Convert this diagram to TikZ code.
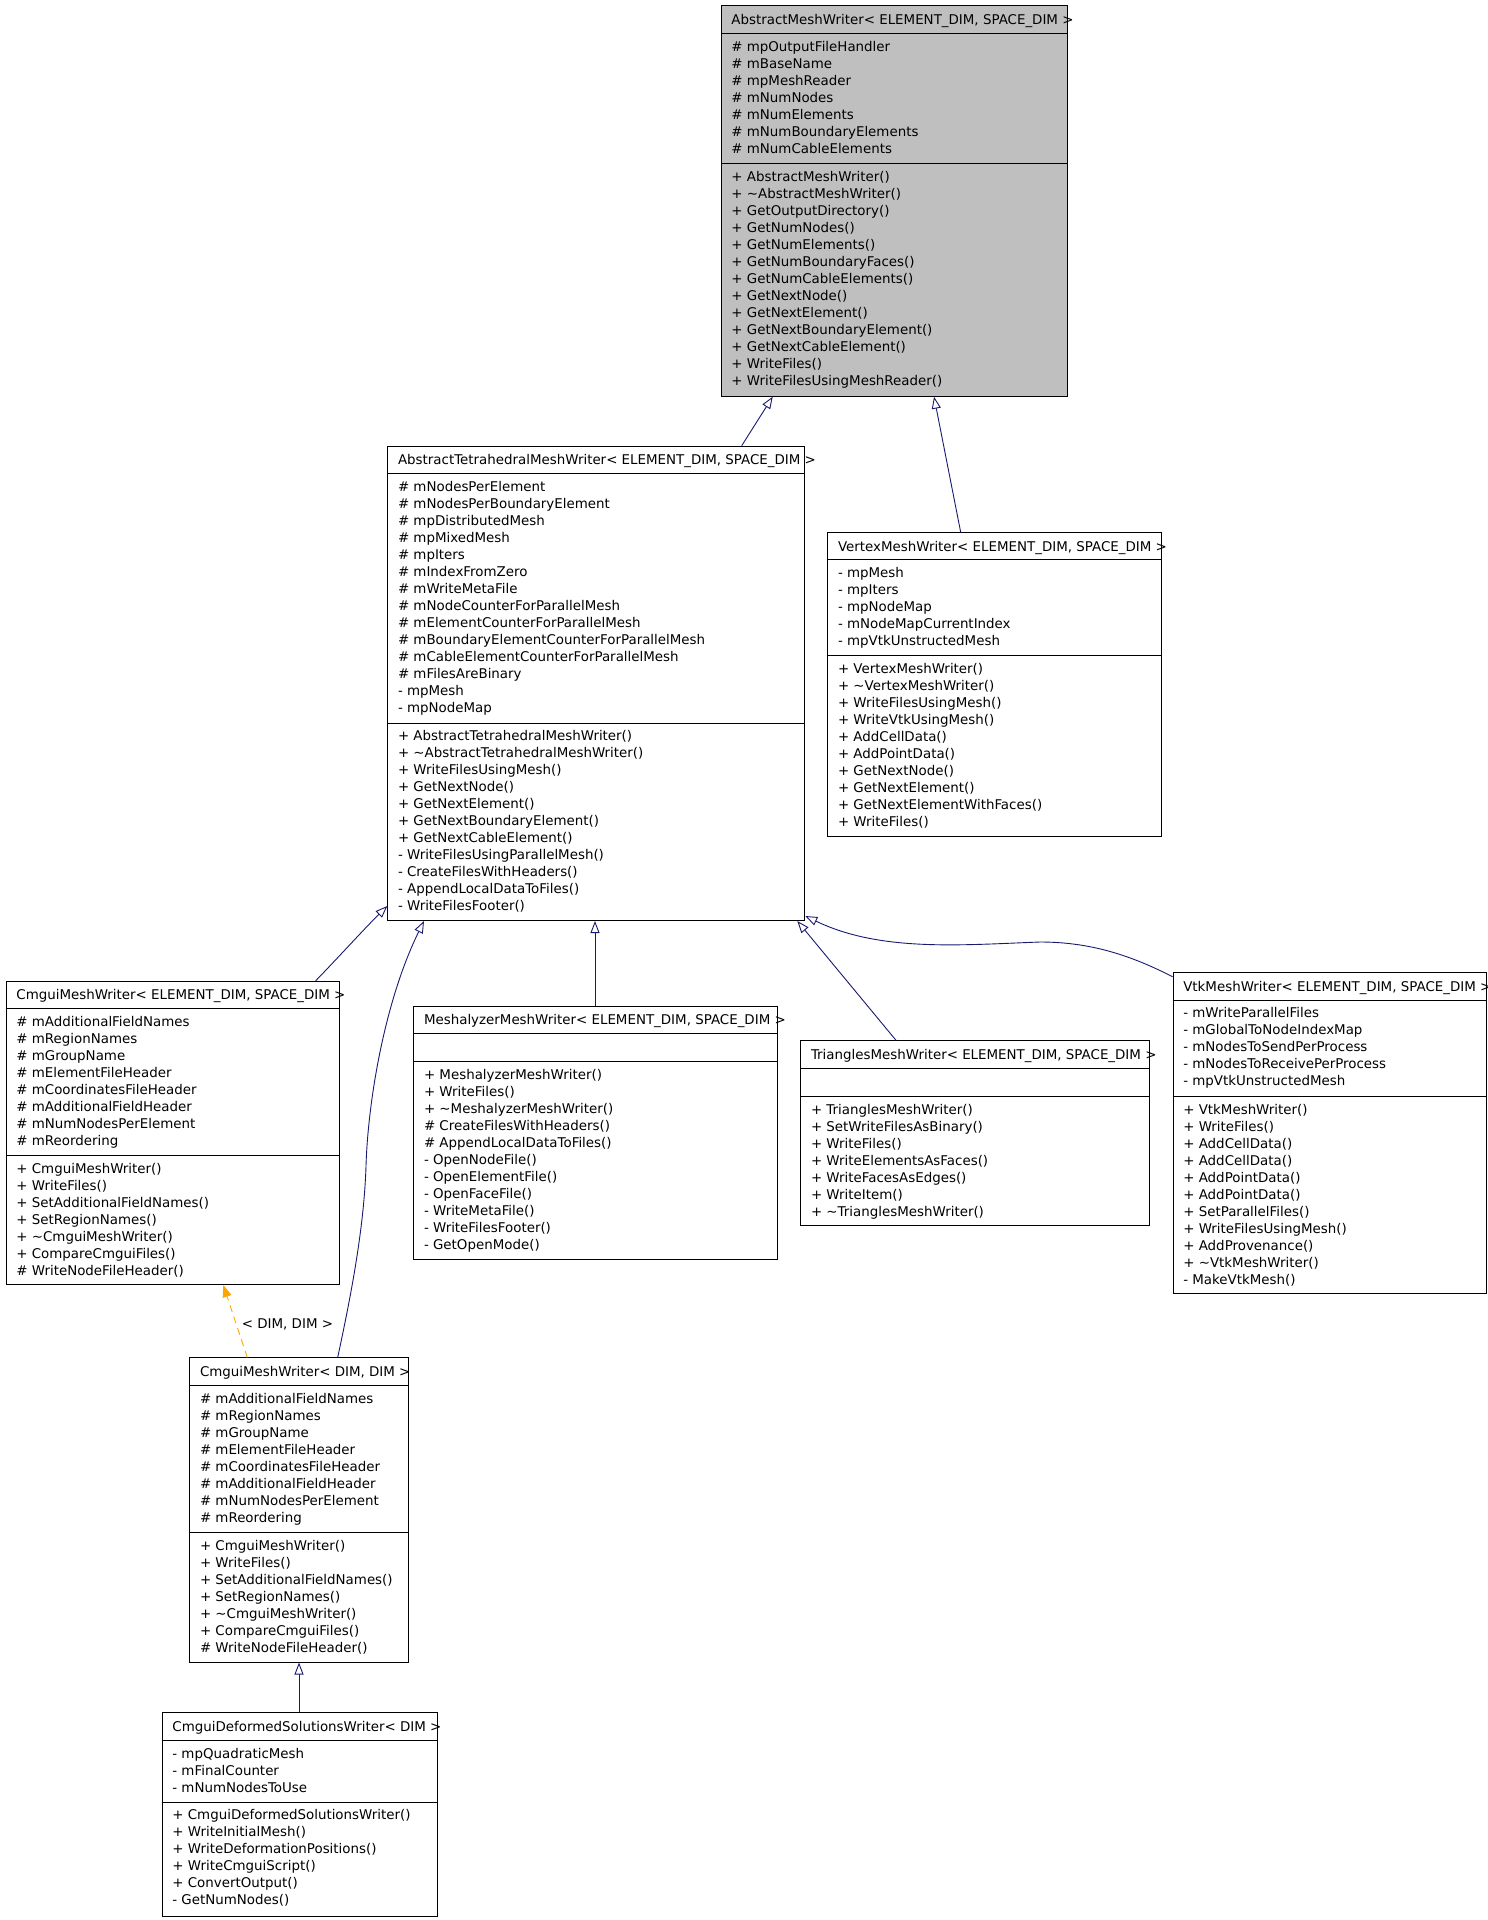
\documentclass[tikz,border=0pt]{standalone}
\usepackage{fontspec}
\setmainfont{DejaVu Sans}
\usetikzlibrary{arrows.meta,calc}
\definecolor{navy}{HTML}{191970}
\definecolor{greyfill}{HTML}{BFBFBF}
\definecolor{dorange}{HTML}{FFA500}
\newcommand\dfont{\fontsize{13.4}{17}\selectfont}
\newcommand\fst{\rule{0pt}{12pt}}
\newcommand\tl{\textasciitilde}
\begin{document}
\begin{tikzpicture}[x=1pt,y=-1pt,
  cbox/.style={draw=black, line width=1pt, inner sep=0pt, anchor=north west},
  sepline/.style={draw=black, line width=1pt},
  ttl/.style={anchor=base west, inner sep=0pt, font=\dfont},
  mem/.style={anchor=north west, inner sep=0pt, align=left, font=\dfont},
  inh/.style={draw=navy, line width=0.9pt, -{Triangle[fill=white, length=12pt, width=9pt]}},
  tmpl/.style={draw=dorange, line width=0.9pt, dash pattern=on 7pt off 5pt, -{Triangle[fill=dorange, length=12pt, width=9pt]}},
]
\useasboundingbox (0,0) rectangle (1488,1920);

% ---------- AbstractMeshWriter
\node[cbox, fill=greyfill, minimum width=346.6pt, minimum height=390.4pt] (amw) at (720.7,5.3) {};
\draw[sepline] (720.7,33.3) -- (1067.3,33.3);
\draw[sepline] (720.7,163.3) -- (1067.3,163.3);
\node[ttl] (amwT) at (731.2,24.3) {AbstractMeshWriter< ELEMENT\_DIM, SPACE\_DIM >};
\node[mem] (amwA) at (731.2,38.8) {\fst\# mpOutputFileHandler\\ \# mBaseName\\ \# mpMeshReader\\ \# mNumNodes\\ \# mNumElements\\ \# mNumBoundaryElements\\ \# mNumCableElements};
\node[mem] (amwM) at (731.2,168.8) {\fst+ AbstractMeshWriter()\\ + \tl AbstractMeshWriter()\\ + GetOutputDirectory()\\ + GetNumNodes()\\ + GetNumElements()\\ + GetNumBoundaryFaces()\\ + GetNumCableElements()\\ + GetNextNode()\\ + GetNextElement()\\ + GetNextBoundaryElement()\\ + GetNextCableElement()\\ + WriteFiles()\\ + WriteFilesUsingMeshReader()};

% ---------- AbstractTetrahedralMeshWriter
\node[cbox, minimum width=417pt, minimum height=474.3pt] (tetra) at (387.3,445.7) {};
\draw[sepline] (387.3,473.3) -- (804.3,473.3);
\draw[sepline] (387.3,723) -- (804.3,723);
\node[ttl] (tetraT) at (397.8,464.7) {AbstractTetrahedralMeshWriter< ELEMENT\_DIM, SPACE\_DIM >};
\node[mem] (tetraA) at (397.8,478.8) {\fst\# mNodesPerElement\\ \# mNodesPerBoundaryElement\\ \# mpDistributedMesh\\ \# mpMixedMesh\\ \# mpIters\\ \# mIndexFromZero\\ \# mWriteMetaFile\\ \# mNodeCounterForParallelMesh\\ \# mElementCounterForParallelMesh\\ \# mBoundaryElementCounterForParallelMesh\\ \# mCableElementCounterForParallelMesh\\ \# mFilesAreBinary\\ - mpMesh\\ - mpNodeMap};
\node[mem] (tetraM) at (397.8,728.5) {\fst+ AbstractTetrahedralMeshWriter()\\ + \tl AbstractTetrahedralMeshWriter()\\ + WriteFilesUsingMesh()\\ + GetNextNode()\\ + GetNextElement()\\ + GetNextBoundaryElement()\\ + GetNextCableElement()\\ - WriteFilesUsingParallelMesh()\\ - CreateFilesWithHeaders()\\ - AppendLocalDataToFiles()\\ - WriteFilesFooter()};

% ---------- VertexMeshWriter
\node[cbox, minimum width=333.4pt, minimum height=303.7pt] (vertex) at (827.3,532.3) {};
\draw[sepline] (827.3,559.3) -- (1160.7,559.3);
\draw[sepline] (827.3,655.7) -- (1160.7,655.7);
\node[ttl] (vertexT) at (837.8,551.3) {VertexMeshWriter< ELEMENT\_DIM, SPACE\_DIM >};
\node[mem] (vertexA) at (837.8,564.8) {\fst- mpMesh\\ - mpIters\\ - mpNodeMap\\ - mNodeMapCurrentIndex\\ - mpVtkUnstructedMesh};
\node[mem] (vertexM) at (837.8,661.2) {\fst+ VertexMeshWriter()\\ + \tl VertexMeshWriter()\\ + WriteFilesUsingMesh()\\ + WriteVtkUsingMesh()\\ + AddCellData()\\ + AddPointData()\\ + GetNextNode()\\ + GetNextElement()\\ + GetNextElementWithFaces()\\ + WriteFiles()};

% ---------- CmguiMeshWriter< ELEMENT_DIM, SPACE_DIM >
\node[cbox, minimum width=333.6pt, minimum height=303.3pt] (cmguiES) at (5.7,980.7) {};
\draw[sepline] (5.7,1008.3) -- (339.3,1008.3);
\draw[sepline] (5.7,1155.7) -- (339.3,1155.7);
\node[ttl] (cmguiEST) at (16.2,999.7) {CmguiMeshWriter< ELEMENT\_DIM, SPACE\_DIM >};
\node[mem] (cmguiESA) at (16.2,1013.8) {\fst\# mAdditionalFieldNames\\ \# mRegionNames\\ \# mGroupName\\ \# mElementFileHeader\\ \# mCoordinatesFileHeader\\ \# mAdditionalFieldHeader\\ \# mNumNodesPerElement\\ \# mReordering};
\node[mem] (cmguiESM) at (16.2,1161.2) {\fst+ CmguiMeshWriter()\\ + WriteFiles()\\ + SetAdditionalFieldNames()\\ + SetRegionNames()\\ + \tl CmguiMeshWriter()\\ + CompareCmguiFiles()\\ \# WriteNodeFileHeader()};

% ---------- MeshalyzerMeshWriter
\node[cbox, minimum width=364pt, minimum height=253.3pt] (meshalyzer) at (413.3,1005.7) {};
\draw[sepline] (413.3,1033.3) -- (777.3,1033.3);
\draw[sepline] (413.3,1061.7) -- (777.3,1061.7);
\node[ttl] (meshalyzerT) at (423.8,1024.7) {MeshalyzerMeshWriter< ELEMENT\_DIM, SPACE\_DIM >};
\node[mem] (meshalyzerM) at (423.8,1067.2) {\fst+ MeshalyzerMeshWriter()\\ + WriteFiles()\\ + \tl MeshalyzerMeshWriter()\\ \# CreateFilesWithHeaders()\\ \# AppendLocalDataToFiles()\\ - OpenNodeFile()\\ - OpenElementFile()\\ - OpenFaceFile()\\ - WriteMetaFile()\\ - WriteFilesFooter()\\ - GetOpenMode()};

% ---------- TrianglesMeshWriter
\node[cbox, minimum width=349.1pt, minimum height=184.7pt] (triangles) at (800.3,1040.3) {};
\draw[sepline] (800.3,1068.3) -- (1149.4,1068.3);
\draw[sepline] (800.3,1096.7) -- (1149.4,1096.7);
\node[ttl] (trianglesT) at (810.8,1059.3) {TrianglesMeshWriter< ELEMENT\_DIM, SPACE\_DIM >};
\node[mem] (trianglesM) at (810.8,1102.2) {\fst+ TrianglesMeshWriter()\\ + SetWriteFilesAsBinary()\\ + WriteFiles()\\ + WriteElementsAsFaces()\\ + WriteFacesAsEdges()\\ + WriteItem()\\ + \tl TrianglesMeshWriter()};

% ---------- VtkMeshWriter
\node[cbox, minimum width=313.8pt, minimum height=321pt] (vtk) at (1172.6,972.3) {};
\draw[sepline] (1172.6,1000) -- (1486.4,1000);
\draw[sepline] (1172.6,1096.7) -- (1486.4,1096.7);
\node[ttl] (vtkT) at (1183.1,991.3) {VtkMeshWriter< ELEMENT\_DIM, SPACE\_DIM >};
\node[mem] (vtkA) at (1183.1,1005.5) {\fst- mWriteParallelFiles\\ - mGlobalToNodeIndexMap\\ - mNodesToSendPerProcess\\ - mNodesToReceivePerProcess\\ - mpVtkUnstructedMesh};
\node[mem] (vtkM) at (1183.1,1102.2) {\fst+ VtkMeshWriter()\\ + WriteFiles()\\ + AddCellData()\\ + AddCellData()\\ + AddPointData()\\ + AddPointData()\\ + SetParallelFiles()\\ + WriteFilesUsingMesh()\\ + AddProvenance()\\ + \tl VtkMeshWriter()\\ - MakeVtkMesh()};

% ---------- CmguiMeshWriter< DIM, DIM >
\node[cbox, minimum width=219pt, minimum height=304.1pt] (cmguiDD) at (189.3,1357.4) {};
\draw[sepline] (189.3,1385.6) -- (408.3,1385.6);
\draw[sepline] (189.3,1532.6) -- (408.3,1532.6);
\node[ttl] (cmguiDDT) at (199.8,1376.4) {CmguiMeshWriter< DIM, DIM >};
\node[mem] (cmguiDDA) at (199.8,1391.1) {\fst\# mAdditionalFieldNames\\ \# mRegionNames\\ \# mGroupName\\ \# mElementFileHeader\\ \# mCoordinatesFileHeader\\ \# mAdditionalFieldHeader\\ \# mNumNodesPerElement\\ \# mReordering};
\node[mem] (cmguiDDM) at (199.8,1538.1) {\fst+ CmguiMeshWriter()\\ + WriteFiles()\\ + SetAdditionalFieldNames()\\ + SetRegionNames()\\ + \tl CmguiMeshWriter()\\ + CompareCmguiFiles()\\ \# WriteNodeFileHeader()};

% ---------- CmguiDeformedSolutionsWriter
\node[cbox, minimum width=275.6pt, minimum height=203.8pt] (deformed) at (161.7,1712.2) {};
\draw[sepline] (161.7,1740.7) -- (437.3,1740.7);
\draw[sepline] (161.7,1802.2) -- (437.3,1802.2);
\node[ttl] (deformedT) at (172.2,1731.2) {CmguiDeformedSolutionsWriter< DIM >};
\node[mem] (deformedA) at (172.2,1746.2) {\fst- mpQuadraticMesh\\ - mFinalCounter\\ - mNumNodesToUse};
\node[mem] (deformedM) at (172.2,1807.7) {\fst+ CmguiDeformedSolutionsWriter()\\ + WriteInitialMesh()\\ + WriteDeformationPositions()\\ + WriteCmguiScript()\\ + ConvertOutput()\\ - GetNumNodes()};

% ---------- connectors
\draw[inh] ([xshift=354.4pt]tetra.north west) -- ([xshift=52pt]amw.south west);
\draw[inh] ([xshift=133.4pt]vertex.north west) -- ([xshift=213.3pt]amw.south west);
\draw[inh] ([xshift=310pt]cmguiES.north west) .. controls (335,961) and (365,928) .. ([yshift=15pt]tetra.south west);
\draw[inh] ([xshift=148.4pt]cmguiDD.north west) .. controls (350,1300) and (364,1230) .. (366,1166) .. controls (368,1100) and (385,1000) .. ([xshift=36.7pt]tetra.south west);
\draw[inh] ([xshift=181.7pt]meshalyzer.north west) -- ([xshift=207.7pt]tetra.south west);
\draw[inh] ([xshift=95.7pt]triangles.north west) -- ([xshift=-8pt]tetra.south east);
\draw[inh] ([yshift=-4.4pt]vtk.north west) .. controls (1130,955) and (1090,942) .. (1040,942) .. controls (960,945) and (880,952) .. ([yshift=5pt]tetra.south east);
\draw[tmpl] ([xshift=58pt]cmguiDD.north west) -- ([xshift=217.6pt]cmguiES.south west);
\node[ttl] (tmplLbl) at (241.7,1328.3) {< DIM, DIM >};
\draw[inh] ([xshift=137.3pt]deformed.north west) -- ([xshift=109.7pt]cmguiDD.south west);
\end{tikzpicture}
\end{document}
